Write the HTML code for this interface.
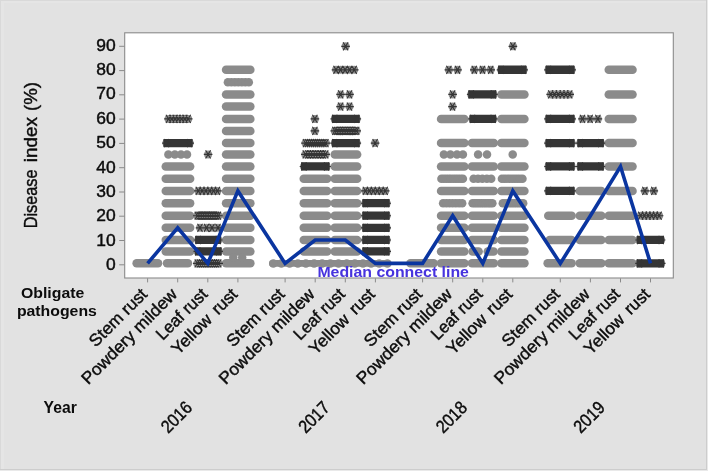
<!DOCTYPE html>
<html lang="en"><head><meta charset="utf-8"><title>Disease index chart</title>
<style>html,body{margin:0;padding:0;background:#e2e2e2}body{width:708px;height:471px;overflow:hidden}svg text{white-space:pre}</style></head>
<body>
<svg width="708" height="471" viewBox="0 0 708 471" style="display:block">
<rect width="708" height="471" fill="#e9e9e9"/>
<rect x="0" y="0" width="707" height="470" fill="#cdcdcd"/>
<rect x="0" y="0" width="706" height="469" fill="#d9d9d9"/>
<rect x="1" y="1" width="705" height="468" fill="#e5e5e5"/>
<rect x="4" y="3" width="702" height="466" fill="#e2e2e2"/>
<rect x="124.7" y="32.8" width="548.6" height="245.2" fill="#ffffff" stroke="#8a8a8a" stroke-width="1.1"/>
<path d="M119.2 264.8H124.5M119.2 240.5H124.5M119.2 216.2H124.5M119.2 192.0H124.5M119.2 167.7H124.5M119.2 143.4H124.5M119.2 119.1H124.5M119.2 94.8H124.5M119.2 70.6H124.5M119.2 46.3H124.5M147.6 278.3V282.4M177.7 278.3V282.4M207.8 278.3V282.4M237.9 278.3V282.4M285.1 278.3V282.4M315.2 278.3V282.4M345.3 278.3V282.4M375.4 278.3V282.4M422.6 278.3V282.4M452.7 278.3V282.4M482.8 278.3V282.4M512.8 278.3V282.4M560.3 278.3V282.4M590.4 278.3V282.4M620.5 278.3V282.4M650.5 278.3V282.4" stroke="#8a8a8a" stroke-width="1" fill="none"/>
<g fill="#8b8b8b"><rect x="132.4" y="259.1" width="29.9" height="8.5" rx="4.25"/><rect x="162.8" y="259.1" width="29.4" height="8.5" rx="4.25"/><rect x="161.5" y="247.2" width="32.9" height="8.5" rx="4.25"/><rect x="161.5" y="235.8" width="32.9" height="8.5" rx="4.25"/><rect x="161.5" y="223.6" width="32.9" height="8.5" rx="4.25"/><rect x="161.5" y="211.4" width="32.9" height="8.5" rx="4.25"/><rect x="161.5" y="198.9" width="32.9" height="8.5" rx="4.25"/><rect x="161.5" y="186.7" width="32.9" height="8.5" rx="4.25"/><rect x="161.5" y="174.4" width="32.9" height="8.5" rx="4.25"/><rect x="161.5" y="162.2" width="32.9" height="8.5" rx="4.25"/><circle cx="168.4" cy="154.4" r="4.25"/><circle cx="174.8" cy="154.4" r="4.25"/><circle cx="181.0" cy="154.4" r="4.25"/><circle cx="187.0" cy="154.4" r="4.25"/><rect x="221.8" y="259.1" width="32.8" height="8.5" rx="4.25"/><rect x="221.8" y="247.2" width="32.8" height="8.5" rx="4.25"/><rect x="221.8" y="235.8" width="32.8" height="8.5" rx="4.25"/><rect x="221.8" y="223.6" width="32.8" height="8.5" rx="4.25"/><rect x="221.8" y="211.4" width="32.8" height="8.5" rx="4.25"/><rect x="221.8" y="198.9" width="32.8" height="8.5" rx="4.25"/><rect x="221.8" y="186.7" width="32.8" height="8.5" rx="4.25"/><rect x="221.8" y="174.4" width="32.8" height="8.5" rx="4.25"/><rect x="221.8" y="162.2" width="32.8" height="8.5" rx="4.25"/><rect x="221.8" y="150.2" width="32.8" height="8.5" rx="4.25"/><rect x="221.8" y="138.8" width="32.8" height="8.5" rx="4.25"/><rect x="221.8" y="126.7" width="32.8" height="8.5" rx="4.25"/><rect x="221.8" y="114.7" width="32.8" height="8.5" rx="4.25"/><rect x="221.8" y="102.3" width="32.8" height="8.5" rx="4.25"/><rect x="221.8" y="90.2" width="32.8" height="8.5" rx="4.25"/><circle cx="227.9" cy="82.2" r="4.25"/><circle cx="231.4" cy="82.2" r="4.25"/><circle cx="234.9" cy="82.2" r="4.25"/><circle cx="238.3" cy="82.2" r="4.25"/><circle cx="241.8" cy="82.2" r="4.25"/><circle cx="245.3" cy="82.2" r="4.25"/><circle cx="248.8" cy="82.2" r="4.25"/><rect x="221.8" y="65.5" width="32.8" height="8.5" rx="4.25"/><circle cx="233.3" cy="257.5" r="4.25"/><circle cx="242.2" cy="257.5" r="4.25"/><rect x="269" y="260.0" width="122.4" height="6.8" rx="3.4"/><circle cx="273.3" cy="263.4" r="4.25"/><circle cx="281.4" cy="263.4" r="4.25"/><circle cx="289.6" cy="263.4" r="4.25"/><circle cx="297.8" cy="263.4" r="4.25"/><circle cx="305.9" cy="263.4" r="4.25"/><circle cx="314.1" cy="263.4" r="4.25"/><circle cx="322.2" cy="263.4" r="4.25"/><circle cx="330.4" cy="263.4" r="4.25"/><circle cx="338.5" cy="263.4" r="4.25"/><circle cx="346.7" cy="263.4" r="4.25"/><circle cx="354.8" cy="263.4" r="4.25"/><circle cx="363.0" cy="263.4" r="4.25"/><circle cx="371.1" cy="263.4" r="4.25"/><circle cx="379.2" cy="263.4" r="4.25"/><circle cx="387.4" cy="263.4" r="4.25"/><rect x="299.5" y="247.2" width="31.9" height="8.5" rx="4.25"/><rect x="299.5" y="235.8" width="31.9" height="8.5" rx="4.25"/><rect x="299.5" y="223.6" width="31.9" height="8.5" rx="4.25"/><rect x="299.5" y="211.4" width="31.9" height="8.5" rx="4.25"/><rect x="299.5" y="198.9" width="31.9" height="8.5" rx="4.25"/><rect x="299.5" y="186.7" width="31.9" height="8.5" rx="4.25"/><rect x="299.5" y="174.4" width="31.9" height="8.5" rx="4.25"/><rect x="330.5" y="247.2" width="30.9" height="8.5" rx="4.25"/><rect x="330.5" y="235.8" width="30.9" height="8.5" rx="4.25"/><rect x="330.5" y="223.6" width="30.9" height="8.5" rx="4.25"/><rect x="330.5" y="211.4" width="30.9" height="8.5" rx="4.25"/><rect x="330.5" y="198.9" width="30.9" height="8.5" rx="4.25"/><rect x="330.5" y="186.7" width="30.9" height="8.5" rx="4.25"/><rect x="330.5" y="174.4" width="30.9" height="8.5" rx="4.25"/><rect x="330.5" y="162.2" width="30.9" height="8.5" rx="4.25"/><rect x="330.5" y="150.2" width="30.9" height="8.5" rx="4.25"/><rect x="406.2" y="259.1" width="31.7" height="8.5" rx="4.25"/><rect x="436.8" y="259.1" width="31.8" height="8.5" rx="4.25"/><rect x="436.8" y="247.2" width="31.8" height="8.5" rx="4.25"/><rect x="436.8" y="235.8" width="31.8" height="8.5" rx="4.25"/><rect x="436.8" y="223.6" width="31.8" height="8.5" rx="4.25"/><rect x="436.8" y="211.4" width="31.8" height="8.5" rx="4.25"/><rect x="436.8" y="186.7" width="31.8" height="8.5" rx="4.25"/><rect x="436.8" y="162.2" width="31.8" height="8.5" rx="4.25"/><rect x="436.8" y="138.8" width="31.8" height="8.5" rx="4.25"/><rect x="436.8" y="114.7" width="31.8" height="8.5" rx="4.25"/><circle cx="443.1" cy="203.2" r="4.25"/><circle cx="446.3" cy="203.2" r="4.25"/><circle cx="449.5" cy="203.2" r="4.25"/><circle cx="452.7" cy="203.2" r="4.25"/><circle cx="455.9" cy="203.2" r="4.25"/><circle cx="459.1" cy="203.2" r="4.25"/><circle cx="462.2" cy="203.2" r="4.25"/><circle cx="441.4" cy="178.7" r="4.25"/><circle cx="443.8" cy="178.7" r="4.25"/><circle cx="446.2" cy="178.7" r="4.25"/><circle cx="448.6" cy="178.7" r="4.25"/><circle cx="450.9" cy="178.7" r="4.25"/><circle cx="453.4" cy="178.7" r="4.25"/><circle cx="455.8" cy="178.7" r="4.25"/><circle cx="458.1" cy="178.7" r="4.25"/><circle cx="460.6" cy="178.7" r="4.25"/><circle cx="462.9" cy="178.7" r="4.25"/><circle cx="443.9" cy="154.4" r="4.25"/><circle cx="450.4" cy="154.4" r="4.25"/><circle cx="457.0" cy="154.4" r="4.25"/><circle cx="462.9" cy="154.4" r="4.25"/><rect x="467.7" y="259.1" width="30.4" height="8.5" rx="4.25"/><rect x="467.7" y="235.8" width="30.4" height="8.5" rx="4.25"/><rect x="467.7" y="223.6" width="30.4" height="8.5" rx="4.25"/><rect x="467.7" y="211.4" width="30.4" height="8.5" rx="4.25"/><rect x="467.7" y="186.7" width="30.4" height="8.5" rx="4.25"/><rect x="467.7" y="162.2" width="30.4" height="8.5" rx="4.25"/><rect x="467.7" y="138.8" width="30.4" height="8.5" rx="4.25"/><rect x="468.3" y="247.2" width="14.6" height="8.5" rx="4.25"/><rect x="483.5" y="247.2" width="14.4" height="8.5" rx="4.25"/><circle cx="472.6" cy="203.2" r="4.25"/><circle cx="474.8" cy="203.2" r="4.25"/><circle cx="477.0" cy="203.2" r="4.25"/><circle cx="479.2" cy="203.2" r="4.25"/><circle cx="481.4" cy="203.2" r="4.25"/><circle cx="483.6" cy="203.2" r="4.25"/><circle cx="485.8" cy="203.2" r="4.25"/><circle cx="488.1" cy="203.2" r="4.25"/><circle cx="490.2" cy="203.2" r="4.25"/><circle cx="492.4" cy="203.2" r="4.25"/><circle cx="473.6" cy="178.7" r="4.25"/><circle cx="478.0" cy="178.7" r="4.25"/><circle cx="482.4" cy="178.7" r="4.25"/><circle cx="486.9" cy="178.7" r="4.25"/><circle cx="491.2" cy="178.7" r="4.25"/><circle cx="478.1" cy="154.4" r="4.25"/><circle cx="487.0" cy="154.4" r="4.25"/><rect x="497.1" y="259.1" width="31.6" height="8.5" rx="4.25"/><rect x="497.1" y="247.2" width="31.6" height="8.5" rx="4.25"/><rect x="497.1" y="235.8" width="31.6" height="8.5" rx="4.25"/><rect x="497.1" y="223.6" width="31.6" height="8.5" rx="4.25"/><rect x="497.1" y="211.4" width="31.6" height="8.5" rx="4.25"/><rect x="497.1" y="186.7" width="31.6" height="8.5" rx="4.25"/><rect x="497.1" y="162.2" width="31.6" height="8.5" rx="4.25"/><rect x="497.1" y="138.8" width="31.6" height="8.5" rx="4.25"/><rect x="497.1" y="114.7" width="31.6" height="8.5" rx="4.25"/><rect x="497.1" y="90.2" width="31.6" height="8.5" rx="4.25"/><circle cx="502.8" cy="203.2" r="4.25"/><circle cx="505.0" cy="203.2" r="4.25"/><circle cx="507.3" cy="203.2" r="4.25"/><circle cx="509.6" cy="203.2" r="4.25"/><circle cx="511.9" cy="203.2" r="4.25"/><circle cx="514.1" cy="203.2" r="4.25"/><circle cx="516.4" cy="203.2" r="4.25"/><circle cx="518.7" cy="203.2" r="4.25"/><circle cx="521.0" cy="203.2" r="4.25"/><circle cx="523.2" cy="203.2" r="4.25"/><circle cx="501.9" cy="178.7" r="4.25"/><circle cx="504.5" cy="178.7" r="4.25"/><circle cx="507.1" cy="178.7" r="4.25"/><circle cx="509.6" cy="178.7" r="4.25"/><circle cx="512.2" cy="178.7" r="4.25"/><circle cx="514.8" cy="178.7" r="4.25"/><circle cx="517.3" cy="178.7" r="4.25"/><circle cx="519.9" cy="178.7" r="4.25"/><circle cx="522.5" cy="178.7" r="4.25"/><circle cx="512.7" cy="154.4" r="4.25"/><rect x="543.4" y="259.1" width="32.5" height="8.5" rx="4.25"/><rect x="545.4" y="235.8" width="30.5" height="8.5" rx="4.25"/><rect x="544.0" y="211.4" width="31.9" height="8.5" rx="4.25"/><rect x="575.5" y="259.1" width="30.1" height="8.5" rx="4.25"/><rect x="575.5" y="235.8" width="30.1" height="8.5" rx="4.25"/><rect x="575.5" y="211.4" width="30.1" height="8.5" rx="4.25"/><rect x="575.5" y="186.7" width="30.1" height="8.5" rx="4.25"/><rect x="604.5" y="259.1" width="32.3" height="8.5" rx="4.25"/><rect x="604.5" y="235.8" width="32.3" height="8.5" rx="4.25"/><rect x="604.5" y="211.4" width="32.3" height="8.5" rx="4.25"/><rect x="604.5" y="186.7" width="32.3" height="8.5" rx="4.25"/><rect x="604.5" y="162.2" width="32.3" height="8.5" rx="4.25"/><rect x="604.5" y="138.8" width="32.3" height="8.5" rx="4.25"/><rect x="604.5" y="114.7" width="32.3" height="8.5" rx="4.25"/><rect x="604.5" y="90.2" width="32.3" height="8.5" rx="4.25"/><rect x="604.5" y="65.5" width="32.3" height="8.5" rx="4.25"/></g>
<g fill="#8e8e8e"><circle cx="166.4" cy="143.1" r="4"/><circle cx="189.7" cy="143.1" r="4"/><circle cx="168.5" cy="118.9" r="4"/><circle cx="171.8" cy="118.9" r="4"/><circle cx="175.1" cy="118.9" r="4"/><circle cx="178.3" cy="118.9" r="4"/><circle cx="181.6" cy="118.9" r="4"/><circle cx="184.9" cy="118.9" r="4"/><circle cx="188.2" cy="118.9" r="4"/><circle cx="197.3" cy="263.4" r="4"/><circle cx="199.4" cy="263.4" r="4"/><circle cx="201.6" cy="263.4" r="4"/><circle cx="203.7" cy="263.4" r="4"/><circle cx="205.9" cy="263.4" r="4"/><circle cx="208.0" cy="263.4" r="4"/><circle cx="210.1" cy="263.4" r="4"/><circle cx="212.3" cy="263.4" r="4"/><circle cx="214.4" cy="263.4" r="4"/><circle cx="216.6" cy="263.4" r="4"/><circle cx="218.7" cy="263.4" r="4"/><circle cx="197.8" cy="251.4" r="4"/><circle cx="218.7" cy="251.4" r="4"/><circle cx="198.1" cy="240.0" r="4"/><circle cx="218.2" cy="240.0" r="4"/><circle cx="200.0" cy="227.8" r="4"/><circle cx="206.5" cy="227.8" r="4"/><circle cx="212.0" cy="227.8" r="4"/><circle cx="218.0" cy="227.8" r="4"/><circle cx="197.3" cy="215.7" r="4"/><circle cx="199.1" cy="215.7" r="4"/><circle cx="200.8" cy="215.7" r="4"/><circle cx="202.6" cy="215.7" r="4"/><circle cx="204.3" cy="215.7" r="4"/><circle cx="206.1" cy="215.7" r="4"/><circle cx="207.8" cy="215.7" r="4"/><circle cx="209.6" cy="215.7" r="4"/><circle cx="211.4" cy="215.7" r="4"/><circle cx="213.1" cy="215.7" r="4"/><circle cx="214.9" cy="215.7" r="4"/><circle cx="216.6" cy="215.7" r="4"/><circle cx="218.4" cy="215.7" r="4"/><circle cx="198.3" cy="190.9" r="4"/><circle cx="202.1" cy="190.9" r="4"/><circle cx="205.9" cy="190.9" r="4"/><circle cx="209.8" cy="190.9" r="4"/><circle cx="213.6" cy="190.9" r="4"/><circle cx="217.4" cy="190.9" r="4"/><circle cx="208.1" cy="154.4" r="4"/><circle cx="304.0" cy="166.5" r="4"/><circle cx="326.6" cy="166.5" r="4"/><circle cx="305.3" cy="154.4" r="4"/><circle cx="307.9" cy="154.4" r="4"/><circle cx="310.4" cy="154.4" r="4"/><circle cx="312.9" cy="154.4" r="4"/><circle cx="315.5" cy="154.4" r="4"/><circle cx="318.1" cy="154.4" r="4"/><circle cx="320.6" cy="154.4" r="4"/><circle cx="323.1" cy="154.4" r="4"/><circle cx="325.7" cy="154.4" r="4"/><circle cx="305.5" cy="143.1" r="4"/><circle cx="307.5" cy="143.1" r="4"/><circle cx="309.6" cy="143.1" r="4"/><circle cx="311.6" cy="143.1" r="4"/><circle cx="313.7" cy="143.1" r="4"/><circle cx="315.7" cy="143.1" r="4"/><circle cx="317.7" cy="143.1" r="4"/><circle cx="319.8" cy="143.1" r="4"/><circle cx="321.8" cy="143.1" r="4"/><circle cx="323.9" cy="143.1" r="4"/><circle cx="325.9" cy="143.1" r="4"/><circle cx="314.9" cy="130.9" r="4"/><circle cx="314.9" cy="118.9" r="4"/><circle cx="334.8" cy="143.1" r="4"/><circle cx="356.8" cy="143.1" r="4"/><circle cx="334.8" cy="130.9" r="4"/><circle cx="336.5" cy="130.9" r="4"/><circle cx="338.2" cy="130.9" r="4"/><circle cx="339.9" cy="130.9" r="4"/><circle cx="341.5" cy="130.9" r="4"/><circle cx="343.2" cy="130.9" r="4"/><circle cx="344.9" cy="130.9" r="4"/><circle cx="346.6" cy="130.9" r="4"/><circle cx="348.3" cy="130.9" r="4"/><circle cx="350.0" cy="130.9" r="4"/><circle cx="351.6" cy="130.9" r="4"/><circle cx="353.3" cy="130.9" r="4"/><circle cx="355.0" cy="130.9" r="4"/><circle cx="356.7" cy="130.9" r="4"/><circle cx="334.8" cy="118.9" r="4"/><circle cx="356.8" cy="118.9" r="4"/><circle cx="340.6" cy="106.6" r="4"/><circle cx="349.5" cy="106.6" r="4"/><circle cx="340.6" cy="94.4" r="4"/><circle cx="349.5" cy="94.4" r="4"/><circle cx="336.0" cy="69.8" r="4"/><circle cx="340.6" cy="69.8" r="4"/><circle cx="345.1" cy="69.8" r="4"/><circle cx="349.6" cy="69.8" r="4"/><circle cx="354.2" cy="69.8" r="4"/><circle cx="345.6" cy="46.3" r="4"/><circle cx="365.3" cy="251.4" r="4"/><circle cx="386.7" cy="251.4" r="4"/><circle cx="365.3" cy="240.0" r="4"/><circle cx="386.7" cy="240.0" r="4"/><circle cx="365.3" cy="227.8" r="4"/><circle cx="386.7" cy="227.8" r="4"/><circle cx="365.3" cy="215.7" r="4"/><circle cx="386.7" cy="215.7" r="4"/><circle cx="365.3" cy="203.2" r="4"/><circle cx="386.7" cy="203.2" r="4"/><circle cx="365.4" cy="190.9" r="4"/><circle cx="369.4" cy="190.9" r="4"/><circle cx="373.3" cy="190.9" r="4"/><circle cx="377.3" cy="190.9" r="4"/><circle cx="381.2" cy="190.9" r="4"/><circle cx="385.2" cy="190.9" r="4"/><circle cx="375.1" cy="143.1" r="4"/><circle cx="452.5" cy="106.6" r="4"/><circle cx="452.6" cy="94.4" r="4"/><circle cx="448.9" cy="69.8" r="4"/><circle cx="457.5" cy="69.8" r="4"/><circle cx="472.5" cy="118.9" r="4"/><circle cx="493.2" cy="118.9" r="4"/><circle cx="471.2" cy="94.4" r="4"/><circle cx="493.4" cy="94.4" r="4"/><circle cx="474.3" cy="69.8" r="4"/><circle cx="482.5" cy="69.8" r="4"/><circle cx="490.7" cy="69.8" r="4"/><circle cx="501.0" cy="69.8" r="4"/><circle cx="523.6" cy="69.8" r="4"/><circle cx="512.9" cy="46.3" r="4"/><circle cx="548.5" cy="190.9" r="4"/><circle cx="571.6" cy="190.9" r="4"/><circle cx="548.5" cy="166.5" r="4"/><circle cx="571.6" cy="166.5" r="4"/><circle cx="548.5" cy="143.1" r="4"/><circle cx="571.6" cy="143.1" r="4"/><circle cx="548.5" cy="118.9" r="4"/><circle cx="571.6" cy="118.9" r="4"/><circle cx="548.5" cy="69.8" r="4"/><circle cx="571.6" cy="69.8" r="4"/><circle cx="550.7" cy="94.4" r="4"/><circle cx="554.5" cy="94.4" r="4"/><circle cx="558.3" cy="94.4" r="4"/><circle cx="562.1" cy="94.4" r="4"/><circle cx="565.9" cy="94.4" r="4"/><circle cx="569.7" cy="94.4" r="4"/><circle cx="580.3" cy="166.5" r="4"/><circle cx="600.9" cy="166.5" r="4"/><circle cx="580.3" cy="143.1" r="4"/><circle cx="600.9" cy="143.1" r="4"/><circle cx="582.5" cy="118.9" r="4"/><circle cx="590.1" cy="118.9" r="4"/><circle cx="597.9" cy="118.9" r="4"/><circle cx="639.5" cy="263.4" r="4"/><circle cx="661.2" cy="263.4" r="4"/><circle cx="639.6" cy="240.0" r="4"/><circle cx="661.1" cy="240.0" r="4"/><circle cx="640.7" cy="215.7" r="4"/><circle cx="644.4" cy="215.7" r="4"/><circle cx="648.1" cy="215.7" r="4"/><circle cx="651.7" cy="215.7" r="4"/><circle cx="655.4" cy="215.7" r="4"/><circle cx="659.1" cy="215.7" r="4"/><circle cx="644.9" cy="190.9" r="4"/><circle cx="653.8" cy="190.9" r="4"/></g>
<g fill="#353535"><rect x="163.4" y="138.9" width="29.3" height="8.3" rx="1"/><rect x="194.8" y="247.2" width="26.9" height="8.3" rx="1"/><rect x="195.1" y="235.8" width="26.1" height="8.3" rx="1"/><rect x="301.0" y="162.3" width="28.6" height="8.3" rx="1"/><rect x="331.8" y="138.9" width="28.0" height="8.3" rx="1"/><rect x="331.8" y="114.8" width="28.0" height="8.3" rx="1"/><rect x="362.3" y="247.2" width="27.4" height="8.3" rx="1"/><rect x="362.3" y="235.8" width="27.4" height="8.3" rx="1"/><rect x="362.3" y="223.7" width="27.4" height="8.3" rx="1"/><rect x="362.3" y="211.5" width="27.4" height="8.3" rx="1"/><rect x="362.3" y="199.0" width="27.4" height="8.3" rx="1"/><rect x="469.5" y="114.8" width="26.7" height="8.3" rx="1"/><rect x="468.2" y="90.2" width="28.2" height="8.3" rx="1"/><rect x="498.0" y="65.6" width="28.6" height="8.3" rx="1"/><rect x="545.5" y="186.8" width="29.1" height="8.3" rx="1"/><rect x="545.5" y="162.3" width="29.1" height="8.3" rx="1"/><rect x="545.5" y="138.9" width="29.1" height="8.3" rx="1"/><rect x="545.5" y="114.8" width="29.1" height="8.3" rx="1"/><rect x="545.5" y="65.6" width="29.1" height="8.3" rx="1"/><rect x="577.3" y="162.3" width="26.6" height="8.3" rx="1"/><rect x="577.3" y="138.9" width="26.6" height="8.3" rx="1"/><rect x="636.5" y="259.2" width="27.7" height="8.3" rx="1"/><rect x="636.6" y="235.8" width="27.5" height="8.3" rx="1"/></g>
<path d="M162.1 143.1h8.6M163.9 139.0l5 8.2M168.9 139.0l-5 8.2M185.4 143.1h8.6M187.2 139.0l5 8.2M192.2 139.0l-5 8.2M164.2 118.9h8.6M166.0 114.8l5 8.2M171.0 114.8l-5 8.2M167.5 118.9h8.6M169.3 114.8l5 8.2M174.3 114.8l-5 8.2M170.8 118.9h8.6M172.6 114.8l5 8.2M177.6 114.8l-5 8.2M174.0 118.9h8.6M175.8 114.8l5 8.2M180.8 114.8l-5 8.2M177.3 118.9h8.6M179.1 114.8l5 8.2M184.1 114.8l-5 8.2M180.6 118.9h8.6M182.4 114.8l5 8.2M187.4 114.8l-5 8.2M183.9 118.9h8.6M185.7 114.8l5 8.2M190.7 114.8l-5 8.2M193.0 263.4h8.6M194.8 259.3l5 8.2M199.8 259.3l-5 8.2M195.1 263.4h8.6M196.9 259.3l5 8.2M201.9 259.3l-5 8.2M197.3 263.4h8.6M199.1 259.3l5 8.2M204.1 259.3l-5 8.2M199.4 263.4h8.6M201.2 259.3l5 8.2M206.2 259.3l-5 8.2M201.6 263.4h8.6M203.4 259.3l5 8.2M208.4 259.3l-5 8.2M203.7 263.4h8.6M205.5 259.3l5 8.2M210.5 259.3l-5 8.2M205.8 263.4h8.6M207.6 259.3l5 8.2M212.6 259.3l-5 8.2M208.0 263.4h8.6M209.8 259.3l5 8.2M214.8 259.3l-5 8.2M210.1 263.4h8.6M211.9 259.3l5 8.2M216.9 259.3l-5 8.2M212.3 263.4h8.6M214.1 259.3l5 8.2M219.1 259.3l-5 8.2M214.4 263.4h8.6M216.2 259.3l5 8.2M221.2 259.3l-5 8.2M193.5 251.4h8.6M195.3 247.3l5 8.2M200.3 247.3l-5 8.2M214.4 251.4h8.6M216.2 247.3l5 8.2M221.2 247.3l-5 8.2M193.8 240.0h8.6M195.6 235.9l5 8.2M200.6 235.9l-5 8.2M213.9 240.0h8.6M215.7 235.9l5 8.2M220.7 235.9l-5 8.2M195.7 227.8h8.6M197.5 223.7l5 8.2M202.5 223.7l-5 8.2M202.2 227.8h8.6M204.0 223.7l5 8.2M209.0 223.7l-5 8.2M207.7 227.8h8.6M209.5 223.7l5 8.2M214.5 223.7l-5 8.2M213.7 227.8h8.6M215.5 223.7l5 8.2M220.5 223.7l-5 8.2M193.0 215.7h8.6M194.8 211.6l5 8.2M199.8 211.6l-5 8.2M194.8 215.7h8.6M196.6 211.6l5 8.2M201.6 211.6l-5 8.2M196.5 215.7h8.6M198.3 211.6l5 8.2M203.3 211.6l-5 8.2M198.3 215.7h8.6M200.1 211.6l5 8.2M205.1 211.6l-5 8.2M200.0 215.7h8.6M201.8 211.6l5 8.2M206.8 211.6l-5 8.2M201.8 215.7h8.6M203.6 211.6l5 8.2M208.6 211.6l-5 8.2M203.5 215.7h8.6M205.3 211.6l5 8.2M210.3 211.6l-5 8.2M205.3 215.7h8.6M207.1 211.6l5 8.2M212.1 211.6l-5 8.2M207.1 215.7h8.6M208.9 211.6l5 8.2M213.9 211.6l-5 8.2M208.8 215.7h8.6M210.6 211.6l5 8.2M215.6 211.6l-5 8.2M210.6 215.7h8.6M212.4 211.6l5 8.2M217.4 211.6l-5 8.2M212.3 215.7h8.6M214.1 211.6l5 8.2M219.1 211.6l-5 8.2M214.1 215.7h8.6M215.9 211.6l5 8.2M220.9 211.6l-5 8.2M194.0 190.9h8.6M195.8 186.8l5 8.2M200.8 186.8l-5 8.2M197.8 190.9h8.6M199.6 186.8l5 8.2M204.6 186.8l-5 8.2M201.6 190.9h8.6M203.4 186.8l5 8.2M208.4 186.8l-5 8.2M205.5 190.9h8.6M207.3 186.8l5 8.2M212.3 186.8l-5 8.2M209.3 190.9h8.6M211.1 186.8l5 8.2M216.1 186.8l-5 8.2M213.1 190.9h8.6M214.9 186.8l5 8.2M219.9 186.8l-5 8.2M203.8 154.4h8.6M205.6 150.3l5 8.2M210.6 150.3l-5 8.2M299.7 166.5h8.6M301.5 162.4l5 8.2M306.5 162.4l-5 8.2M322.3 166.5h8.6M324.1 162.4l5 8.2M329.1 162.4l-5 8.2M301.0 154.4h8.6M302.8 150.3l5 8.2M307.8 150.3l-5 8.2M303.6 154.4h8.6M305.4 150.3l5 8.2M310.4 150.3l-5 8.2M306.1 154.4h8.6M307.9 150.3l5 8.2M312.9 150.3l-5 8.2M308.6 154.4h8.6M310.4 150.3l5 8.2M315.4 150.3l-5 8.2M311.2 154.4h8.6M313.0 150.3l5 8.2M318.0 150.3l-5 8.2M313.8 154.4h8.6M315.6 150.3l5 8.2M320.6 150.3l-5 8.2M316.3 154.4h8.6M318.1 150.3l5 8.2M323.1 150.3l-5 8.2M318.8 154.4h8.6M320.6 150.3l5 8.2M325.6 150.3l-5 8.2M321.4 154.4h8.6M323.2 150.3l5 8.2M328.2 150.3l-5 8.2M301.2 143.1h8.6M303.0 139.0l5 8.2M308.0 139.0l-5 8.2M303.2 143.1h8.6M305.0 139.0l5 8.2M310.0 139.0l-5 8.2M305.3 143.1h8.6M307.1 139.0l5 8.2M312.1 139.0l-5 8.2M307.3 143.1h8.6M309.1 139.0l5 8.2M314.1 139.0l-5 8.2M309.4 143.1h8.6M311.2 139.0l5 8.2M316.2 139.0l-5 8.2M311.4 143.1h8.6M313.2 139.0l5 8.2M318.2 139.0l-5 8.2M313.4 143.1h8.6M315.2 139.0l5 8.2M320.2 139.0l-5 8.2M315.5 143.1h8.6M317.3 139.0l5 8.2M322.3 139.0l-5 8.2M317.5 143.1h8.6M319.3 139.0l5 8.2M324.3 139.0l-5 8.2M319.6 143.1h8.6M321.4 139.0l5 8.2M326.4 139.0l-5 8.2M321.6 143.1h8.6M323.4 139.0l5 8.2M328.4 139.0l-5 8.2M310.6 130.9h8.6M312.4 126.8l5 8.2M317.4 126.8l-5 8.2M310.6 118.9h8.6M312.4 114.8l5 8.2M317.4 114.8l-5 8.2M330.5 143.1h8.6M332.3 139.0l5 8.2M337.3 139.0l-5 8.2M352.5 143.1h8.6M354.3 139.0l5 8.2M359.3 139.0l-5 8.2M330.5 130.9h8.6M332.3 126.8l5 8.2M337.3 126.8l-5 8.2M332.2 130.9h8.6M334.0 126.8l5 8.2M339.0 126.8l-5 8.2M333.9 130.9h8.6M335.7 126.8l5 8.2M340.7 126.8l-5 8.2M335.6 130.9h8.6M337.4 126.8l5 8.2M342.4 126.8l-5 8.2M337.2 130.9h8.6M339.0 126.8l5 8.2M344.0 126.8l-5 8.2M338.9 130.9h8.6M340.7 126.8l5 8.2M345.7 126.8l-5 8.2M340.6 130.9h8.6M342.4 126.8l5 8.2M347.4 126.8l-5 8.2M342.3 130.9h8.6M344.1 126.8l5 8.2M349.1 126.8l-5 8.2M344.0 130.9h8.6M345.8 126.8l5 8.2M350.8 126.8l-5 8.2M345.7 130.9h8.6M347.5 126.8l5 8.2M352.5 126.8l-5 8.2M347.3 130.9h8.6M349.1 126.8l5 8.2M354.1 126.8l-5 8.2M349.0 130.9h8.6M350.8 126.8l5 8.2M355.8 126.8l-5 8.2M350.7 130.9h8.6M352.5 126.8l5 8.2M357.5 126.8l-5 8.2M352.4 130.9h8.6M354.2 126.8l5 8.2M359.2 126.8l-5 8.2M330.5 118.9h8.6M332.3 114.8l5 8.2M337.3 114.8l-5 8.2M352.5 118.9h8.6M354.3 114.8l5 8.2M359.3 114.8l-5 8.2M336.3 106.6h8.6M338.1 102.5l5 8.2M343.1 102.5l-5 8.2M345.2 106.6h8.6M347.0 102.5l5 8.2M352.0 102.5l-5 8.2M336.3 94.4h8.6M338.1 90.3l5 8.2M343.1 90.3l-5 8.2M345.2 94.4h8.6M347.0 90.3l5 8.2M352.0 90.3l-5 8.2M331.7 69.8h8.6M333.5 65.7l5 8.2M338.5 65.7l-5 8.2M336.2 69.8h8.6M338.1 65.7l5 8.2M343.1 65.7l-5 8.2M340.8 69.8h8.6M342.6 65.7l5 8.2M347.6 65.7l-5 8.2M345.3 69.8h8.6M347.1 65.7l5 8.2M352.1 65.7l-5 8.2M349.9 69.8h8.6M351.7 65.7l5 8.2M356.7 65.7l-5 8.2M341.3 46.3h8.6M343.1 42.2l5 8.2M348.1 42.2l-5 8.2M361.0 251.4h8.6M362.8 247.3l5 8.2M367.8 247.3l-5 8.2M382.4 251.4h8.6M384.2 247.3l5 8.2M389.2 247.3l-5 8.2M361.0 240.0h8.6M362.8 235.9l5 8.2M367.8 235.9l-5 8.2M382.4 240.0h8.6M384.2 235.9l5 8.2M389.2 235.9l-5 8.2M361.0 227.8h8.6M362.8 223.7l5 8.2M367.8 223.7l-5 8.2M382.4 227.8h8.6M384.2 223.7l5 8.2M389.2 223.7l-5 8.2M361.0 215.7h8.6M362.8 211.6l5 8.2M367.8 211.6l-5 8.2M382.4 215.7h8.6M384.2 211.6l5 8.2M389.2 211.6l-5 8.2M361.0 203.2h8.6M362.8 199.1l5 8.2M367.8 199.1l-5 8.2M382.4 203.2h8.6M384.2 199.1l5 8.2M389.2 199.1l-5 8.2M361.1 190.9h8.6M362.9 186.8l5 8.2M367.9 186.8l-5 8.2M365.1 190.9h8.6M366.9 186.8l5 8.2M371.9 186.8l-5 8.2M369.0 190.9h8.6M370.8 186.8l5 8.2M375.8 186.8l-5 8.2M373.0 190.9h8.6M374.8 186.8l5 8.2M379.8 186.8l-5 8.2M376.9 190.9h8.6M378.7 186.8l5 8.2M383.7 186.8l-5 8.2M380.9 190.9h8.6M382.7 186.8l5 8.2M387.7 186.8l-5 8.2M370.8 143.1h8.6M372.6 139.0l5 8.2M377.6 139.0l-5 8.2M448.2 106.6h8.6M450.0 102.5l5 8.2M455.0 102.5l-5 8.2M448.3 94.4h8.6M450.1 90.3l5 8.2M455.1 90.3l-5 8.2M444.6 69.8h8.6M446.4 65.7l5 8.2M451.4 65.7l-5 8.2M453.2 69.8h8.6M455.0 65.7l5 8.2M460.0 65.7l-5 8.2M468.2 118.9h8.6M470.0 114.8l5 8.2M475.0 114.8l-5 8.2M488.9 118.9h8.6M490.7 114.8l5 8.2M495.7 114.8l-5 8.2M466.9 94.4h8.6M468.7 90.3l5 8.2M473.7 90.3l-5 8.2M489.1 94.4h8.6M490.9 90.3l5 8.2M495.9 90.3l-5 8.2M470.0 69.8h8.6M471.8 65.7l5 8.2M476.8 65.7l-5 8.2M478.2 69.8h8.6M480.0 65.7l5 8.2M485.0 65.7l-5 8.2M486.4 69.8h8.6M488.2 65.7l5 8.2M493.2 65.7l-5 8.2M496.7 69.8h8.6M498.5 65.7l5 8.2M503.5 65.7l-5 8.2M519.3 69.8h8.6M521.1 65.7l5 8.2M526.1 65.7l-5 8.2M508.6 46.3h8.6M510.4 42.2l5 8.2M515.4 42.2l-5 8.2M544.2 190.9h8.6M546.0 186.8l5 8.2M551.0 186.8l-5 8.2M567.3 190.9h8.6M569.1 186.8l5 8.2M574.1 186.8l-5 8.2M544.2 166.5h8.6M546.0 162.4l5 8.2M551.0 162.4l-5 8.2M567.3 166.5h8.6M569.1 162.4l5 8.2M574.1 162.4l-5 8.2M544.2 143.1h8.6M546.0 139.0l5 8.2M551.0 139.0l-5 8.2M567.3 143.1h8.6M569.1 139.0l5 8.2M574.1 139.0l-5 8.2M544.2 118.9h8.6M546.0 114.8l5 8.2M551.0 114.8l-5 8.2M567.3 118.9h8.6M569.1 114.8l5 8.2M574.1 114.8l-5 8.2M544.2 69.8h8.6M546.0 65.7l5 8.2M551.0 65.7l-5 8.2M567.3 69.8h8.6M569.1 65.7l5 8.2M574.1 65.7l-5 8.2M546.4 94.4h8.6M548.2 90.3l5 8.2M553.2 90.3l-5 8.2M550.2 94.4h8.6M552.0 90.3l5 8.2M557.0 90.3l-5 8.2M554.0 94.4h8.6M555.8 90.3l5 8.2M560.8 90.3l-5 8.2M557.8 94.4h8.6M559.6 90.3l5 8.2M564.6 90.3l-5 8.2M561.6 94.4h8.6M563.4 90.3l5 8.2M568.4 90.3l-5 8.2M565.4 94.4h8.6M567.2 90.3l5 8.2M572.2 90.3l-5 8.2M576.0 166.5h8.6M577.8 162.4l5 8.2M582.8 162.4l-5 8.2M596.6 166.5h8.6M598.4 162.4l5 8.2M603.4 162.4l-5 8.2M576.0 143.1h8.6M577.8 139.0l5 8.2M582.8 139.0l-5 8.2M596.6 143.1h8.6M598.4 139.0l5 8.2M603.4 139.0l-5 8.2M578.2 118.9h8.6M580.0 114.8l5 8.2M585.0 114.8l-5 8.2M585.8 118.9h8.6M587.6 114.8l5 8.2M592.6 114.8l-5 8.2M593.6 118.9h8.6M595.4 114.8l5 8.2M600.4 114.8l-5 8.2M635.2 263.4h8.6M637.0 259.3l5 8.2M642.0 259.3l-5 8.2M656.9 263.4h8.6M658.7 259.3l5 8.2M663.7 259.3l-5 8.2M635.3 240.0h8.6M637.1 235.9l5 8.2M642.1 235.9l-5 8.2M656.8 240.0h8.6M658.6 235.9l5 8.2M663.6 235.9l-5 8.2M636.4 215.7h8.6M638.2 211.6l5 8.2M643.2 211.6l-5 8.2M640.1 215.7h8.6M641.9 211.6l5 8.2M646.9 211.6l-5 8.2M643.8 215.7h8.6M645.6 211.6l5 8.2M650.6 211.6l-5 8.2M647.4 215.7h8.6M649.2 211.6l5 8.2M654.2 211.6l-5 8.2M651.1 215.7h8.6M652.9 211.6l5 8.2M657.9 211.6l-5 8.2M654.8 215.7h8.6M656.6 211.6l5 8.2M661.6 211.6l-5 8.2M640.6 190.9h8.6M642.4 186.8l5 8.2M647.4 186.8l-5 8.2M649.5 190.9h8.6M651.3 186.8l5 8.2M656.3 186.8l-5 8.2" stroke="#353535" stroke-width="1.15" fill="none"/>
<polyline points="147.6,263.4 177.7,227.8 207.8,263.4 237.9,190.9 285.1,263.4 315.2,240.0 345.3,240.0 375.4,263.4 422.6,263.4 452.7,215.7 482.8,263.4 512.8,190.9 560.3,263.4 590.4,215.7 620.5,166.5 650.5,263.4" fill="none" stroke="#0a35a0" stroke-width="3.6" stroke-linejoin="miter"/>
<g font-family="'Liberation Sans', sans-serif" fill="#0c0c0c" stroke="#0c0c0c" stroke-width="0.42" stroke-linejoin="round">
<text x="115.6" y="270.0" font-size="16" text-anchor="end" textLength="9.7" lengthAdjust="spacingAndGlyphs">0</text>
<text x="115.6" y="245.6" font-size="16" text-anchor="end" textLength="19.4" lengthAdjust="spacingAndGlyphs">10</text>
<text x="115.6" y="221.2" font-size="16" text-anchor="end" textLength="19.4" lengthAdjust="spacingAndGlyphs">20</text>
<text x="115.6" y="196.9" font-size="16" text-anchor="end" textLength="19.4" lengthAdjust="spacingAndGlyphs">30</text>
<text x="115.6" y="172.5" font-size="16" text-anchor="end" textLength="19.4" lengthAdjust="spacingAndGlyphs">40</text>
<text x="115.6" y="148.1" font-size="16" text-anchor="end" textLength="19.4" lengthAdjust="spacingAndGlyphs">50</text>
<text x="115.6" y="123.7" font-size="16" text-anchor="end" textLength="19.4" lengthAdjust="spacingAndGlyphs">60</text>
<text x="115.6" y="99.3" font-size="16" text-anchor="end" textLength="19.4" lengthAdjust="spacingAndGlyphs">70</text>
<text x="115.6" y="75.0" font-size="16" text-anchor="end" textLength="19.4" lengthAdjust="spacingAndGlyphs">80</text>
<text x="115.6" y="50.6" font-size="16" text-anchor="end" textLength="19.4" lengthAdjust="spacingAndGlyphs">90</text>
<text transform="translate(37.3,0) rotate(-90)" font-size="18.3" lengthAdjust="spacingAndGlyphs"><tspan x="-228.3" textLength="58.8" lengthAdjust="spacingAndGlyphs">Disease</tspan> <tspan x="-162.2" textLength="45.1" lengthAdjust="spacingAndGlyphs">index</tspan> <tspan x="-111" textLength="29" lengthAdjust="spacingAndGlyphs">(%)</tspan></text>
<text transform="translate(148.2,295.3) rotate(-45)" font-size="17" text-anchor="end" textLength="74" lengthAdjust="spacingAndGlyphs">Stem rust</text>
<text transform="translate(178.3,295.3) rotate(-45)" font-size="17" text-anchor="end" textLength="127.3" lengthAdjust="spacingAndGlyphs">Powdery mildew</text>
<text transform="translate(208.4,295.3) rotate(-45)" font-size="17" text-anchor="end" textLength="64.6" lengthAdjust="spacingAndGlyphs">Leaf rust</text>
<text transform="translate(238.5,295.3) rotate(-45)" font-size="17" text-anchor="end" textLength="85.2" lengthAdjust="spacingAndGlyphs" word-spacing="2.5">Yellow rust</text>
<text transform="translate(285.7,295.3) rotate(-45)" font-size="17" text-anchor="end" textLength="74" lengthAdjust="spacingAndGlyphs">Stem rust</text>
<text transform="translate(315.8,295.3) rotate(-45)" font-size="17" text-anchor="end" textLength="127.3" lengthAdjust="spacingAndGlyphs">Powdery mildew</text>
<text transform="translate(345.9,295.3) rotate(-45)" font-size="17" text-anchor="end" textLength="64.6" lengthAdjust="spacingAndGlyphs">Leaf rust</text>
<text transform="translate(376.0,295.3) rotate(-45)" font-size="17" text-anchor="end" textLength="85.2" lengthAdjust="spacingAndGlyphs" word-spacing="2.5">Yellow rust</text>
<text transform="translate(423.2,295.3) rotate(-45)" font-size="17" text-anchor="end" textLength="74" lengthAdjust="spacingAndGlyphs">Stem rust</text>
<text transform="translate(453.3,295.3) rotate(-45)" font-size="17" text-anchor="end" textLength="127.3" lengthAdjust="spacingAndGlyphs">Powdery mildew</text>
<text transform="translate(483.4,295.3) rotate(-45)" font-size="17" text-anchor="end" textLength="64.6" lengthAdjust="spacingAndGlyphs">Leaf rust</text>
<text transform="translate(513.4,295.3) rotate(-45)" font-size="17" text-anchor="end" textLength="85.2" lengthAdjust="spacingAndGlyphs" word-spacing="2.5">Yellow rust</text>
<text transform="translate(560.9,295.3) rotate(-45)" font-size="17" text-anchor="end" textLength="74" lengthAdjust="spacingAndGlyphs">Stem rust</text>
<text transform="translate(591.0,295.3) rotate(-45)" font-size="17" text-anchor="end" textLength="127.3" lengthAdjust="spacingAndGlyphs">Powdery mildew</text>
<text transform="translate(621.1,295.3) rotate(-45)" font-size="17" text-anchor="end" textLength="64.6" lengthAdjust="spacingAndGlyphs">Leaf rust</text>
<text transform="translate(651.1,295.3) rotate(-45)" font-size="17" text-anchor="end" textLength="85.2" lengthAdjust="spacingAndGlyphs" word-spacing="2.5">Yellow rust</text>
<text transform="translate(193.3,408.8) rotate(-45)" font-size="18" text-anchor="end" textLength="35.6" lengthAdjust="spacingAndGlyphs">2016</text>
<text transform="translate(330.9,408.8) rotate(-45)" font-size="18" text-anchor="end" textLength="35.6" lengthAdjust="spacingAndGlyphs">2017</text>
<text transform="translate(468.3,408.8) rotate(-45)" font-size="18" text-anchor="end" textLength="35.6" lengthAdjust="spacingAndGlyphs">2018</text>
<text transform="translate(606.0,408.8) rotate(-45)" font-size="18" text-anchor="end" textLength="35.6" lengthAdjust="spacingAndGlyphs">2019</text>
</g>
<g font-family="'Liberation Sans', sans-serif" fill="#0c0c0c" font-weight="bold">
<text x="21" y="298.1" font-size="15.3" textLength="63.3" lengthAdjust="spacingAndGlyphs">Obligate</text>
<text x="16.9" y="316.3" font-size="15.3" textLength="80" lengthAdjust="spacingAndGlyphs">pathogens</text>
<text x="43.6" y="413.3" font-size="15.8" textLength="33.2" lengthAdjust="spacingAndGlyphs">Year</text>
</g>
<text x="317.4" y="276.5" font-family="'Liberation Sans', sans-serif" font-size="13.8" font-weight="bold" fill="#4733de" textLength="151.5" lengthAdjust="spacingAndGlyphs">Median connect line</text>
</svg>
</body></html>
